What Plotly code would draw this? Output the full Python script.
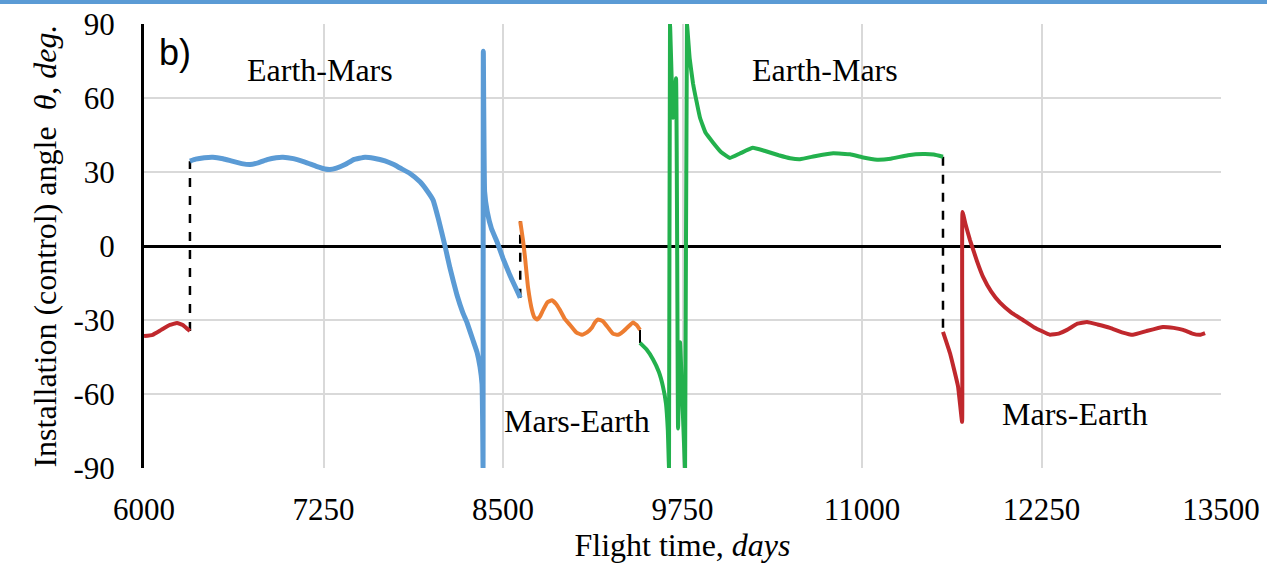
import plotly.graph_objects as go

# Flight time (days) and installation angle theta (deg) for each leg
red1_t = [6000, 6060, 6120, 6180, 6230, 6270, 6300, 6320]
red1_v = [-36.5, -36.0, -34.0, -32.0, -31.2, -32.0, -33.5, -34.5]

blue_t = [6320, 6360, 6420, 6480, 6550, 6613, 6680, 6738, 6800, 6857, 6920, 6968,
          7040, 7121, 7200, 7260, 7295, 7340, 7400, 7460, 7539, 7600, 7678, 7740,
          7783, 7850, 7922, 7970, 8013, 8050, 8096, 8131, 8180, 8220, 8249, 8290,
          8319, 8340, 8354, 8358, 8361, 8363, 8372, 8390, 8420, 8460, 8500, 8549,
          8597, 8620]
blue_v = [34.4, 35.2, 35.8, 36.0, 35.4, 34.4, 33.4, 33.0, 33.8, 35.0, 35.8, 36.0,
          35.4, 34.0, 32.3, 31.2, 31.0, 31.6, 33.0, 35.0, 36.0, 35.6, 34.5, 33.0,
          31.6, 29.5, 26.0, 22.5, 18.6, 11.0, 0.0, -9.0, -20.0, -27.0, -31.0, -38.0,
          -43.0, -49.0, -56.0, -70.0, -90.0, 79.0, 22.0, 14.0, 7.0, 1.5, -5.0, -12.0,
          -18.0, -21.0]

orange_t = [8620, 8640, 8653, 8674, 8702, 8720, 8737, 8758, 8779, 8810, 8841, 8870,
            8897, 8930, 8967, 9010, 9050, 9085, 9120, 9140, 9162, 9195, 9231, 9265,
            9301, 9340, 9385, 9405, 9430, 9454]
orange_v = [10.0, 2.0, -4.5, -16.6, -26.0, -29.0, -29.8, -28.5, -26.0, -22.8, -22.0, -23.5,
            -26.0, -29.5, -32.0, -35.0, -36.0, -35.0, -33.0, -31.0, -29.8, -30.5, -33.0, -35.5,
            -36.0, -34.5, -32.0, -31.0, -32.0, -34.0]

green_t = [9454, 9500, 9545, 9585, 9614, 9635, 9648, 9656, 9663, 9684, 9705, 9719,
           9733, 9768, 9781, 9800, 9823, 9850, 9872, 9910, 9962, 10020, 10081, 10150,
           10240, 10320, 10420, 10500, 10568, 10680, 10800, 10917, 11000, 11105, 11200,
           11320, 11425, 11500, 11564]
green_v = [-39.3, -42.0, -46.0, -51.0, -57.0, -64.0, -75.0, -90.0, 90.0, 52.0, 68.0, -74.0,
           -39.0, -90.0, 90.0, 76.0, 66.0, 58.0, 52.0, 46.0, 42.0, 38.0, 35.7, 37.5,
           39.8, 38.6, 36.8, 35.6, 35.2, 36.5, 37.6, 37.2, 36.0, 35.0, 35.4,
           36.8, 37.3, 37.1, 36.2]

red2_t = [11564, 11613, 11669, 11697, 11700, 11720, 11752, 11800, 11843, 11900, 11961,
          12040, 12121, 12200, 12309, 12370, 12428, 12500, 12567, 12640, 12727, 12810,
          12887, 12980, 13096, 13170, 13236, 13300, 13354, 13389]
red2_v = [-34.8, -43.5, -57.0, -71.3, 13.8, 9.0, 2.4, -6.0, -12.5, -18.5, -23.0,
          -27.0, -30.0, -33.0, -36.0, -35.5, -34.0, -31.5, -30.8, -31.8, -33.2, -35.0,
          -36.0, -34.5, -32.8, -33.2, -34.0, -35.5, -36.0, -35.3]

# Jumps of the control angle between legs (dashed connectors)
jump_t = [6320, 8620, 11564]
jump_from = [-34.5, -21.0, 36.2]
jump_to = [34.4, 10.0, -34.8]
step_t = [9454]
step_from = [-34.0]
step_to = [-39.3]

x_ticks = [6000, 7250, 8500, 9750, 11000, 12250, 13500]
y_ticks = [-90, -60, -30, 0, 30, 60, 90]

RED = "#c0282d"
BLUE = "#5b9bd5"
ORANGE = "#ed7d31"
GREEN = "#23b14d"
SERIF = "Liberation Serif"

fig = go.Figure()

# connectors first so the curves sit on top
for t, a, b in zip(jump_t, jump_from, jump_to):
    fig.add_trace(go.Scatter(x=[t, t], y=[a, b], mode="lines",
                             line=dict(color="black", width=2.5, dash="dash"),
                             hoverinfo="skip"))
for t, a, b in zip(step_t, step_from, step_to):
    fig.add_trace(go.Scatter(x=[t, t], y=[a, b], mode="lines",
                             line=dict(color="black", width=2),
                             hoverinfo="skip"))

for tt, vv, col, w in [(red1_t, red1_v, RED, 4), (blue_t, blue_v, BLUE, 5),
                       (orange_t, orange_v, ORANGE, 4), (green_t, green_v, GREEN, 4),
                       (red2_t, red2_v, RED, 4)]:
    fig.add_trace(go.Scatter(x=tt, y=vv, mode="lines",
                             line=dict(color=col, width=w, shape="spline", smoothing=0.3)))

labels = [("Earth-Mars", 7226, 71.5), ("Earth-Mars", 10742, 71.5),
          ("Mars-Earth", 9015, -71.0), ("Mars-Earth", 12484, -68.0)]
for txt, t, v in labels:
    fig.add_annotation(x=t, y=v, text=txt, showarrow=False,
                       font=dict(family=SERIF, size=32, color="black"),
                       xanchor="center", yanchor="middle")

fig.add_annotation(x=6216, y=78.5, text="b)", showarrow=False,
                   font=dict(family="Liberation Sans", size=36, color="black"),
                   xanchor="center", yanchor="middle")

# thin blue rule along the top edge of the page
fig.add_shape(type="rect", xref="paper", yref="paper",
              x0=-0.2, x1=1.1, y0=1.045, y1=1.07,
              line=dict(width=0), fillcolor=BLUE, layer="above")

fig.update_layout(
    width=1267, height=566,
    margin=dict(l=144, r=46, t=24, b=98),
    paper_bgcolor="white", plot_bgcolor="white",
    showlegend=False,
    font=dict(family=SERIF, color="black"),
)

fig.update_xaxes(
    range=[6000, 13500], tickvals=x_ticks, ticktext=[str(v) for v in x_ticks],
    showgrid=True, gridcolor="#d9d9d9", gridwidth=1.5,
    zeroline=False, showline=False, ticks="", automargin=False,
    tickfont=dict(family=SERIF, size=31, color="black"),
    ticklabelstandoff=20,
    title=dict(text="Flight time, <i>days</i>", font=dict(family=SERIF, size=32),
               standoff=2),
)
fig.update_yaxes(
    range=[-90, 90], tickvals=y_ticks, ticktext=[str(v) for v in y_ticks],
    showgrid=True, gridcolor="#d9d9d9", gridwidth=1.5,
    zeroline=True, zerolinecolor="black", zerolinewidth=3,
    showline=True, linecolor="black", linewidth=3, ticks="", automargin=False,
    tickfont=dict(family=SERIF, size=31, color="black"),
    ticklabelstandoff=20,
    title=dict(text="Installation (control) angle  <i>θ</i>, <i>deg.</i>",
               font=dict(family=SERIF, size=32), standoff=8),
)

fig.write_html("out.html")
